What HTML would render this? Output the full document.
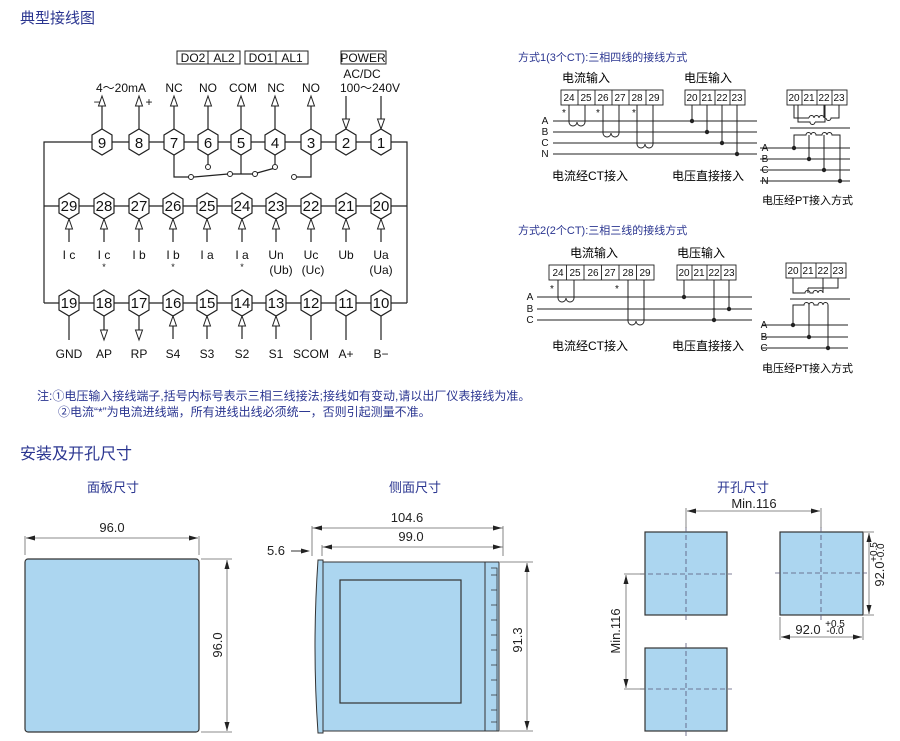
<!DOCTYPE html>
<html><head><meta charset="utf-8"><style>
html,body{margin:0;padding:0;background:#fff;}
svg{display:block;}
.t{font-family:"Liberation Sans","Noto Sans CJK SC",sans-serif;}
.b{fill:#2a3590;}
.m{font-family:"Liberation Sans","Noto Sans CJK SC",sans-serif;font-size:12px;fill:#111;text-anchor:middle;}
.n{font-family:"Liberation Sans",sans-serif;font-size:15px;fill:#111;text-anchor:middle;}
.s{font-family:"Liberation Sans","Noto Sans CJK SC",sans-serif;font-size:10px;fill:#111;text-anchor:middle;}
.k{stroke:#222;stroke-width:1.2;fill:none;}
.d{font-family:"Liberation Sans",sans-serif;font-size:13px;fill:#222;text-anchor:middle;}
</style></head><body>
<svg width="900" height="741" viewBox="0 0 900 741" xmlns="http://www.w3.org/2000/svg">
<defs>
<g id="hx"><polygon points="0,-13 10,-7 10,7 0,13 -10,7 -10,-7" fill="#fff" stroke="#222" stroke-width="1.2"/></g>
<g id="uT"><path d="M0,10 V33" stroke="#222" stroke-width="1.2"/><path d="M0,0 L-3.5,10 L3.5,10Z" fill="#fff" stroke="#222"/></g>
<g id="dT"><path d="M0,0 V23" stroke="#222" stroke-width="1.2"/><path d="M0,33 L-3.5,23 L3.5,23Z" fill="#fff" stroke="#222"/></g>
<g id="uM"><path d="M0,10 V23" stroke="#222" stroke-width="1.2"/><path d="M0,0 L-3.5,10 L3.5,10Z" fill="#fff" stroke="#222"/></g>
<g id="dB"><path d="M0,0 V14" stroke="#222" stroke-width="1.2"/><path d="M0,24 L-3.5,14 L3.5,14Z" fill="#fff" stroke="#222"/></g>
<g id="ah"><path d="M0,0 L9,-2.5 L9,2.5Z" fill="#222"/></g>
</defs>

<!-- headings -->
<text x="20" y="23" class="t b" font-size="15">典型接线图</text>
<text x="20" y="459" class="t b" font-size="16">安装及开孔尺寸</text>
<text x="113" y="492" class="t b" font-size="13" text-anchor="middle">面板尺寸</text>
<text x="415" y="492" class="t b" font-size="13" text-anchor="middle">侧面尺寸</text>
<text x="743" y="492" class="t b" font-size="13" text-anchor="middle">开孔尺寸</text>
<text x="37" y="400" class="t b" font-size="12">注:①电压输入接线端子,括号内标号表示三相三线接法;接线如有变动,请以出厂仪表接线为准。</text>
<text x="58" y="416" class="t b" font-size="12">②电流“*”为电流进线端，所有进线出线必须统一，否则引起测量不准。</text>

<!-- main wiring frame -->
<path class="k" d="M44,303 V142 H407 V303 M44,206 H407 M44,303 H407"/>
<!-- top boxes -->
<g fill="none" stroke="#222"><rect x="177" y="51" width="63" height="13"/><line x1="208" y1="51" x2="208" y2="64"/>
<rect x="245" y="51" width="63" height="13"/><line x1="276" y1="51" x2="276" y2="64"/>
<rect x="341" y="51" width="45" height="13"/></g>
<text class="m" x="193" y="62">DO2</text><text class="m" x="224" y="62">AL2</text>
<text class="m" x="261" y="62">DO1</text><text class="m" x="292" y="62">AL1</text>
<text class="m" x="363" y="62">POWER</text>
<text class="m" x="362" y="78">AC/DC</text>
<text class="m" x="370" y="92">100～240V</text>
<text class="m" x="121" y="92">4～20mA</text>
<text class="m" x="174" y="92">NC</text><text class="m" x="208" y="92">NO</text><text class="m" x="243" y="92">COM</text><text class="m" x="276" y="92">NC</text><text class="m" x="311" y="92">NO</text>
<text class="m" x="97" y="106">−</text><text class="m" x="149" y="106">+</text>
<use href="#uT" x="102" y="96"/><use href="#uT" x="139" y="96"/><use href="#uT" x="174" y="96"/><use href="#uT" x="208" y="96"/><use href="#uT" x="241" y="96"/><use href="#uT" x="275" y="96"/><use href="#uT" x="311" y="96"/>
<use href="#dT" x="346" y="96"/><use href="#dT" x="381" y="96"/>
<!-- relay -->
<g class="k"><path d="M174,155 V177 H189"/><path d="M194,177 L228,174"/><path d="M208,155 V164"/><path d="M241,155 V174 M232,174 H253"/><path d="M257,173 L275,168"/><path d="M275,155 V164"/><path d="M297,177 H311 V155"/></g>
<g fill="#fff" stroke="#222"><circle cx="191" cy="177" r="2.5"/><circle cx="230" cy="174" r="2.5"/><circle cx="208" cy="167" r="2.5"/><circle cx="255" cy="174" r="2.5"/><circle cx="275" cy="167" r="2.5"/><circle cx="294" cy="177" r="2.5"/></g>
<!-- top hexes -->
<g>
<use href="#hx" x="102" y="142"/><use href="#hx" x="139" y="142"/><use href="#hx" x="174" y="142"/><use href="#hx" x="208" y="142"/><use href="#hx" x="241" y="142"/><use href="#hx" x="275" y="142"/><use href="#hx" x="311" y="142"/><use href="#hx" x="346" y="142"/><use href="#hx" x="381" y="142"/>
</g>
<text class="n" x="102" y="148">9</text><text class="n" x="139" y="148">8</text><text class="n" x="174" y="148">7</text><text class="n" x="208" y="148">6</text><text class="n" x="241" y="148">5</text><text class="n" x="275" y="148">4</text><text class="n" x="311" y="148">3</text><text class="n" x="346" y="148">2</text><text class="n" x="381" y="148">1</text>
<!-- middle -->
<g>
<use href="#hx" x="69" y="206"/><use href="#hx" x="104" y="206"/><use href="#hx" x="139" y="206"/><use href="#hx" x="173" y="206"/><use href="#hx" x="207" y="206"/><use href="#hx" x="242" y="206"/><use href="#hx" x="276" y="206"/><use href="#hx" x="311" y="206"/><use href="#hx" x="346" y="206"/><use href="#hx" x="381" y="206"/>
<use href="#uM" x="69" y="219"/><use href="#uM" x="104" y="219"/><use href="#uM" x="139" y="219"/><use href="#uM" x="173" y="219"/><use href="#uM" x="207" y="219"/><use href="#uM" x="242" y="219"/><use href="#uM" x="276" y="219"/><use href="#uM" x="311" y="219"/><use href="#uM" x="346" y="219"/><use href="#uM" x="381" y="219"/>
</g>
<g class="n" font-size="14"><text x="69" y="211">29</text><text x="104" y="211">28</text><text x="139" y="211">27</text><text x="173" y="211">26</text><text x="207" y="211">25</text><text x="242" y="211">24</text><text x="276" y="211">23</text><text x="311" y="211">22</text><text x="346" y="211">21</text><text x="381" y="211">20</text></g>
<g class="m"><text x="69" y="259">I c</text><text x="104" y="259">I c</text><text x="139" y="259">I b</text><text x="173" y="259">I b</text><text x="207" y="259">I a</text><text x="242" y="259">I a</text><text x="276" y="259">Un</text><text x="311" y="259">Uc</text><text x="346" y="259">Ub</text><text x="381" y="259">Ua</text>
<text x="104" y="270" font-size="9">*</text><text x="173" y="270" font-size="9">*</text><text x="242" y="270" font-size="9">*</text>
<text x="281" y="274">(Ub)</text><text x="313" y="274">(Uc)</text><text x="381" y="274">(Ua)</text></g>
<!-- bottom -->
<g>
<use href="#hx" x="69" y="303"/><use href="#hx" x="104" y="303"/><use href="#hx" x="139" y="303"/><use href="#hx" x="173" y="303"/><use href="#hx" x="207" y="303"/><use href="#hx" x="242" y="303"/><use href="#hx" x="276" y="303"/><use href="#hx" x="311" y="303"/><use href="#hx" x="346" y="303"/><use href="#hx" x="381" y="303"/>
<use href="#dB" x="104" y="316"/><use href="#dB" x="139" y="316"/>
<use href="#uM" x="173" y="316"/><use href="#uM" x="207" y="316"/><use href="#uM" x="242" y="316"/><use href="#uM" x="276" y="316"/>
</g>
<path class="k" d="M69,316 V340 M311,316 V340 M346,316 V340 M381,316 V340 M104,340 V340"/>
<g class="n" font-size="14"><text x="69" y="308">19</text><text x="104" y="308">18</text><text x="139" y="308">17</text><text x="173" y="308">16</text><text x="207" y="308">15</text><text x="242" y="308">14</text><text x="276" y="308">13</text><text x="311" y="308">12</text><text x="346" y="308">11</text><text x="381" y="308">10</text></g>
<g class="m"><text x="69" y="358">GND</text><text x="104" y="358">AP</text><text x="139" y="358">RP</text><text x="173" y="358">S4</text><text x="207" y="358">S3</text><text x="242" y="358">S2</text><text x="276" y="358">S1</text><text x="311" y="358">SCOM</text><text x="346" y="358">A+</text><text x="381" y="358">B−</text></g>

<!-- Method 1 -->
<text x="518" y="61" class="t b" font-size="11">方式1(3个CT):三相四线的接线方式</text>
<text class="t" x="562" y="82" font-size="12">电流输入</text>
<text class="t" x="684" y="82" font-size="12">电压输入</text>
<g fill="#fff" stroke="#222" stroke-width="0.9">
<rect x="561" y="90" width="102" height="15"/><rect x="685" y="90" width="60" height="15"/><rect x="787" y="90" width="60" height="15"/>
</g>
<path stroke="#222" stroke-width="0.9" d="M578,90V105M595,90V105M612,90V105M629,90V105M646,90V105M700,90V105M715,90V105M730,90V105M802,90V105M817,90V105M832,90V105"/>
<g class="s" font-size="9"><text x="569" y="101">24</text><text x="586" y="101">25</text><text x="603" y="101">26</text><text x="620" y="101">27</text><text x="637" y="101">28</text><text x="654" y="101">29</text>
<text x="692" y="101">20</text><text x="707" y="101">21</text><text x="722" y="101">22</text><text x="737" y="101">23</text>
<text x="794" y="101">20</text><text x="809" y="101">21</text><text x="824" y="101">22</text><text x="839" y="101">23</text></g>
<g stroke="#222" stroke-width="1" fill="none">
<path d="M553,121H757M553,132H757M553,143H757M553,154H757"/>
<path d="M569,105V122a4,4 0 0 0 8,0a4,4 0 0 0 8,0V105"/>
<path d="M603,105V133a4,4 0 0 0 8,0a4,4 0 0 0 8,0V105"/>
<path d="M637,105V144a4,4 0 0 0 8,0a4,4 0 0 0 8,0V105"/>
<path d="M692,105V121M707,105V132M722,105V143M737,105V154"/>
<path d="M794,105V118H809M809,118a2.5,2.5 0 0 1 5,0a2.5,2.5 0 0 1 5,0a2.5,2.5 0 0 1 5,0M824,118V105M839,105V118H831a2.5,2.5 0 0 1 -5,0"/>
<path d="M798,105V122H810a2.5,2.5 0 0 0 5,0 M815,122H825V105"/>
<path d="M790,128H850"/>
<path d="M794,148V135H806a2.5,2.5 0 0 1 5,0a2.5,2.5 0 0 1 5,0H822a2.5,2.5 0 0 1 5,0a2.5,2.5 0 0 1 5,0H840V181M809,135V159M824,135V170"/>
<path d="M760,148H850M760,159H850M760,170H850M760,181H850"/>
</g>
<g fill="#222"><circle cx="692" cy="121" r="2.2"/><circle cx="707" cy="132" r="2.2"/><circle cx="722" cy="143" r="2.2"/><circle cx="737" cy="154" r="2.2"/>
<circle cx="794" cy="148" r="2.2"/><circle cx="809" cy="159" r="2.2"/><circle cx="824" cy="170" r="2.2"/><circle cx="840" cy="181" r="2.2"/></g>
<g class="s" font-size="8"><text x="545" y="124">A</text><text x="545" y="135">B</text><text x="545" y="146">C</text><text x="545" y="157">N</text>
<text x="765" y="151">A</text><text x="765" y="162">B</text><text x="765" y="173">C</text><text x="765" y="184">N</text>
<text x="564" y="116" font-size="10">*</text><text x="598" y="116" font-size="10">*</text><text x="634" y="116" font-size="10">*</text></g>
<text class="t" x="552" y="180" font-size="12">电流经CT接入</text>
<text class="t" x="672" y="180" font-size="12">电压直接接入</text>
<text class="t" x="762" y="204" font-size="11">电压经PT接入方式</text>

<!-- Method 2 -->
<text x="518" y="234" class="t b" font-size="11">方式2(2个CT):三相三线的接线方式</text>
<text class="t" x="570" y="257" font-size="12">电流输入</text>
<text class="t" x="677" y="257" font-size="12">电压输入</text>
<g fill="#fff" stroke="#222" stroke-width="0.9">
<rect x="549" y="265" width="105" height="15"/><rect x="677" y="265" width="59" height="15"/><rect x="786" y="263" width="60" height="15"/>
</g>
<path stroke="#222" stroke-width="0.9" d="M566.5,265V280M584,265V280M601.5,265V280M619,265V280M636.5,265V280M692,265V280M707,265V280M721,265V280M801,263V278M816,263V278M831,263V278"/>
<g class="s" font-size="9"><text x="558" y="276">24</text><text x="575" y="276">25</text><text x="593" y="276">26</text><text x="610" y="276">27</text><text x="628" y="276">28</text><text x="645" y="276">29</text>
<text x="684" y="276">20</text><text x="699" y="276">21</text><text x="714" y="276">22</text><text x="729" y="276">23</text>
<text x="793" y="274">20</text><text x="808" y="274">21</text><text x="823" y="274">22</text><text x="838" y="274">23</text></g>
<g stroke="#222" stroke-width="1" fill="none">
<path d="M537,297H752M537,309H752M537,320H752"/>
<path d="M558,280V298a4,4 0 0 0 8,0a4,4 0 0 0 8,0V280"/>
<path d="M628,280V321a4,4 0 0 0 8,0a4,4 0 0 0 8,0V280"/>
<path d="M684,280V297M714,280V320M729,280V309"/>
<path d="M793,278V293H805a2.5,2.5 0 0 1 5,0H813a2.5,2.5 0 0 1 5,0a2.5,2.5 0 0 1 5,0V278M808,288H838V278M808,288V293"/>
<path d="M790,299H850"/>
<path d="M793,325V305H804a2.5,2.5 0 0 1 5,0a2.5,2.5 0 0 1 5,0H818a2.5,2.5 0 0 1 5,0a2.5,2.5 0 0 1 5,0V348M809,305V337"/>
<path d="M762,325H848M762,337H848M762,348H848"/>
</g>
<g fill="#222"><circle cx="684" cy="297" r="2.2"/><circle cx="714" cy="320" r="2.2"/><circle cx="729" cy="309" r="2.2"/>
<circle cx="793" cy="325" r="2.2"/><circle cx="809" cy="337" r="2.2"/><circle cx="828" cy="348" r="2.2"/></g>
<g class="s" font-size="8"><text x="530" y="300">A</text><text x="530" y="312">B</text><text x="530" y="323">C</text>
<text x="764" y="328">A</text><text x="764" y="340">B</text><text x="764" y="351">C</text>
<text x="552" y="292" font-size="10">*</text><text x="617" y="292" font-size="10">*</text></g>
<text class="t" x="552" y="350" font-size="12">电流经CT接入</text>
<text class="t" x="672" y="350" font-size="12">电压直接接入</text>
<text class="t" x="762" y="372" font-size="11">电压经PT接入方式</text>

<!-- Panel -->
<rect x="25" y="559" width="174" height="173" rx="3" fill="#acd6f0" stroke="#333" stroke-width="1.2"/>
<g stroke="#666" stroke-width="0.8"><path d="M25,536V555M199,536V555M26,538H198M201,559H232M201,732H232M227,560V731"/></g>
<use href="#ah" x="26" y="538"/><use href="#ah" x="198" y="538" transform="rotate(180 198 538)"/>
<use href="#ah" x="227" y="560" transform="rotate(90 227 560)"/><use href="#ah" x="227" y="731" transform="rotate(-90 227 731)"/>
<text class="d" x="112" y="532">96.0</text>
<text class="d" x="0" y="0" transform="translate(222,645) rotate(-90)">96.0</text>

<!-- Side -->
<rect x="318" y="562" width="167" height="169" fill="#acd6f0" stroke="#333"/>
<path d="M318,560 h5 v173 h-5 q-6,-86 0,-173Z" fill="#acd6f0" stroke="#333"/>
<rect x="340" y="580" width="121" height="123" fill="#acd6f0" stroke="#333" stroke-width="1.2"/>
<rect x="485" y="562" width="14" height="169" fill="#acd6f0" stroke="#333"/>
<path d="M491,568H497V731M491,575H497M491,590H497M491,605H497M491,620H497M491,635H497M491,650H497M491,665H497M491,680H497M491,695H497M491,710H497M491,722H497" stroke="#333" stroke-width="0.8" fill="none"/>
<g stroke="#666" stroke-width="0.8"><path d="M312,526V556M322,545V556M503,526V556M312,528H503M322,547H503M500,562H533M500,731H533M527,563V730"/></g>
<use href="#ah" x="313" y="528"/><use href="#ah" x="502" y="528" transform="rotate(180 502 528)"/>
<use href="#ah" x="323" y="547"/><use href="#ah" x="502" y="547" transform="rotate(180 502 547)"/>
<use href="#ah" x="527" y="563" transform="rotate(90 527 563)"/><use href="#ah" x="527" y="730" transform="rotate(-90 527 730)"/>
<text class="d" x="407" y="522">104.6</text>
<text class="d" x="411" y="541">99.0</text>
<text class="d" x="276" y="555">5.6</text>
<path d="M291,551H302" stroke="#333"/><use href="#ah" x="310" y="551" transform="rotate(180 310 551)"/>
<text class="d" x="0" y="0" transform="translate(522,640) rotate(-90)">91.3</text>

<!-- Cutout -->
<g fill="#acd6f0" stroke="#333" stroke-width="1.2">
<rect x="645" y="532" width="82" height="83"/><rect x="780" y="532" width="83" height="83"/><rect x="645" y="648" width="82" height="83"/>
</g>
<g stroke="#557" stroke-width="0.8" stroke-dasharray="5,3" fill="none">
<path d="M686,527V620M640,574H732M821,527V620M775,573H867M686,643V736M640,689H732"/>
</g>
<g stroke="#666" stroke-width="0.8"><path d="M686,508V528M821,508V528M687,511H820M624,574H645M624,689H645M626,575V688M780,617V640M863,617V640M781,637H862M864,532H874M864,615H874M869,533V614"/></g>
<use href="#ah" x="687" y="511"/><use href="#ah" x="820" y="511" transform="rotate(180 820 511)"/>
<use href="#ah" x="626" y="575" transform="rotate(90 626 575)"/><use href="#ah" x="626" y="688" transform="rotate(-90 626 688)"/>
<use href="#ah" x="781" y="637"/><use href="#ah" x="862" y="637" transform="rotate(180 862 637)"/>
<use href="#ah" x="869" y="533" transform="rotate(90 869 533)"/><use href="#ah" x="869" y="614" transform="rotate(-90 869 614)"/>
<text class="d" x="754" y="508">Min.116</text>
<text class="d" x="0" y="0" transform="translate(620,631) rotate(-90)">Min.116</text>
<text class="d" x="808" y="634">92.0</text>
<text class="s" x="835" y="627" font-size="7">+0.5</text><text class="s" x="835" y="634" font-size="7">-0.0</text>
<g transform="translate(884,574) rotate(-90)"><text class="d" x="0" y="0">92.0</text><text class="s" x="22" y="-7" font-size="7">+0.5</text><text class="s" x="22" y="0" font-size="7">-0.0</text></g>
</svg>
</body></html>
